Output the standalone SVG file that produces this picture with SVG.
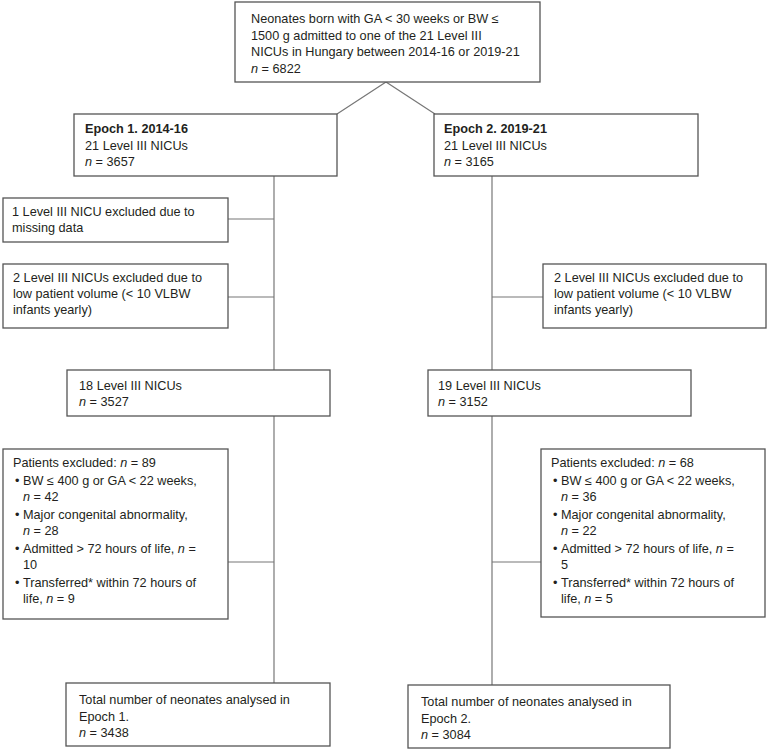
<svg xmlns="http://www.w3.org/2000/svg" width="768" height="752" viewBox="0 0 768 752">
<style>
.box{fill:#fff;stroke:#555;stroke-width:1.3}
.ln{fill:none;stroke:#777;stroke-width:1.2}
text{font-family:"Liberation Sans",Arial,sans-serif;font-size:12.7px;fill:#231f20}
.b{font-weight:bold}
.i{font-style:italic}
</style>
<rect width="768" height="752" fill="#fff"/>
<g id="connectors">
<path class="ln" d="M337,114 L386,82 L435,114"/>
<path class="ln" d="M274,176 V683"/>
<path class="ln" d="M492,176 V685"/>
<path class="ln" d="M228,219 H274"/>
<path class="ln" d="M228,297 H274"/>
<path class="ln" d="M492,297 H543"/>
<path class="ln" d="M228,562 H274"/>
<path class="ln" d="M492,562 H541"/>
</g>
<g id="top">
<rect class="box" x="235" y="2" width="305" height="80"/>
<text x="251" y="23">Neonates born with GA &lt; 30 weeks or BW ≤</text>
<text x="251" y="40">1500 g admitted to one of the 21 Level III</text>
<text x="251" y="56">NICUs in Hungary between 2014-16 or 2019-21</text>
<text x="251" y="73"><tspan class="i">n</tspan> = 6822</text>
</g>
<g id="epoch1">
<rect class="box" x="74" y="114" width="263" height="62"/>
<text x="85" y="133" class="b">Epoch 1. 2014-16</text>
<text x="85" y="150">21 Level III NICUs</text>
<text x="85" y="166"><tspan class="i">n</tspan> = 3657</text>
</g>
<g id="epoch2">
<rect class="box" x="434" y="114" width="264" height="62"/>
<text x="444" y="133" class="b">Epoch 2. 2019-21</text>
<text x="444" y="150">21 Level III NICUs</text>
<text x="444" y="166"><tspan class="i">n</tspan> = 3165</text>
</g>
<g id="excl1a">
<rect class="box" x="3" y="198" width="225" height="44"/>
<text x="12" y="216">1 Level III NICU excluded due to</text>
<text x="12" y="232">missing data</text>
</g>
<g id="excl1b">
<rect class="box" x="3" y="264" width="225" height="64"/>
<text x="13" y="282">2 Level III NICUs excluded due to</text>
<text x="13" y="298">low patient volume (&lt; 10 VLBW</text>
<text x="13" y="314">infants yearly)</text>
</g>
<g id="excl2b">
<rect class="box" x="543" y="264" width="223" height="64"/>
<text x="554" y="282">2 Level III NICUs excluded due to</text>
<text x="554" y="298">low patient volume (&lt; 10 VLBW</text>
<text x="554" y="314">infants yearly)</text>
</g>
<g id="n18">
<rect class="box" x="67" y="370" width="263" height="46"/>
<text x="79" y="390">18 Level III NICUs</text>
<text x="79" y="406"><tspan class="i">n</tspan> = 3527</text>
</g>
<g id="n19">
<rect class="box" x="428" y="370" width="263" height="46"/>
<text x="438" y="390">19 Level III NICUs</text>
<text x="438" y="406"><tspan class="i">n</tspan> = 3152</text>
</g>
<g id="pat1">
<rect class="box" x="3" y="449" width="225" height="170"/>
<text x="13" y="467">Patients excluded: <tspan class="i">n</tspan> = 89</text>
<text x="15" y="485">•</text><text x="23" y="485">BW ≤ 400 g or GA &lt; 22 weeks,</text>
<text x="23" y="501"><tspan class="i">n</tspan> = 42</text>
<text x="15" y="519">•</text><text x="23" y="519">Major congenital abnormality,</text>
<text x="23" y="535"><tspan class="i">n</tspan> = 28</text>
<text x="15" y="553">•</text><text x="23" y="553">Admitted &gt; 72 hours of life, <tspan class="i">n</tspan> =</text>
<text x="23" y="569">10</text>
<text x="15" y="587">•</text><text x="23" y="587">Transferred* within 72 hours of</text>
<text x="23" y="603">life, <tspan class="i">n</tspan> = 9</text>
</g>
<g id="pat2">
<rect class="box" x="541" y="449" width="224" height="168"/>
<text x="551" y="467">Patients excluded: <tspan class="i">n</tspan> = 68</text>
<text x="553" y="485">•</text><text x="561" y="485">BW ≤ 400 g or GA &lt; 22 weeks,</text>
<text x="561" y="501"><tspan class="i">n</tspan> = 36</text>
<text x="553" y="519">•</text><text x="561" y="519">Major congenital abnormality,</text>
<text x="561" y="535"><tspan class="i">n</tspan> = 22</text>
<text x="553" y="553">•</text><text x="561" y="553">Admitted &gt; 72 hours of life, <tspan class="i">n</tspan> =</text>
<text x="561" y="569">5</text>
<text x="553" y="587">•</text><text x="561" y="587">Transferred* within 72 hours of</text>
<text x="561" y="603">life, <tspan class="i">n</tspan> = 5</text>
</g>
<g id="total1">
<rect class="box" x="66" y="683" width="264" height="63"/>
<text x="79" y="704">Total number of neonates analysed in</text>
<text x="79" y="721">Epoch 1.</text>
<text x="79" y="737"><tspan class="i">n</tspan> = 3438</text>
</g>
<g id="total2">
<rect class="box" x="408" y="685" width="262" height="63"/>
<text x="421" y="706">Total number of neonates analysed in</text>
<text x="421" y="723">Epoch 2.</text>
<text x="421" y="739"><tspan class="i">n</tspan> = 3084</text>
</g>
</svg>
